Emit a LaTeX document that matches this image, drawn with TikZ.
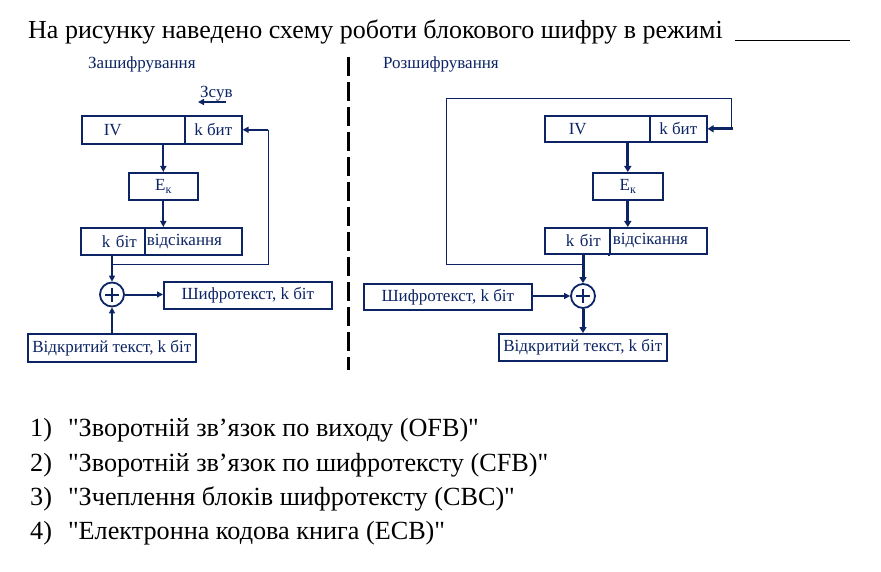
\documentclass[tikz,border=0pt]{standalone}
\usepackage{fontspec}
\setmainfont{Liberation Serif}[Ligatures=TeXOff]
\usetikzlibrary{arrows.meta}
\definecolor{navy}{RGB}{12,36,100}
\begin{document}
\begin{tikzpicture}[x=1pt,y=-1pt,
  box/.style={draw=navy, line width=1.6pt, rectangle, inner sep=0pt, text=navy,
    font=\fontsize{17}{17}\selectfont, anchor=north west},
  lbl/.style={text=navy, font=\fontsize{17}{17}\selectfont, inner sep=0pt, anchor=base west},
  arr/.style={draw=navy, line width=2pt, -{Triangle[length=6pt,width=6pt]}},
  arrb/.style={draw=navy, line width=3pt, -{Triangle[length=6pt,width=7pt]}},
  fb/.style={draw=navy, line width=1pt},
  xor/.style={circle, draw=navy, line width=1.8pt, minimum size=24pt, inner sep=0pt,
    path picture={
      \draw[navy, line width=2pt] ([xshift=-7pt]path picture bounding box.center) -- ([xshift=7pt]path picture bounding box.center);
      \draw[navy, line width=2pt] ([yshift=-7pt]path picture bounding box.center) -- ([yshift=7pt]path picture bounding box.center);}},
  txt/.style={inner sep=0pt, anchor=base west, text=black},
  ans/.style={txt, font=\fontsize{26.2}{26.2}\selectfont}
]
\useasboundingbox (0,0) rectangle (881,572);

% title
\node[txt, font=\fontsize{26}{26}\selectfont] (title) at (28,39) {На рисунку наведено схему роботи блокового шифру в режимі};
\coordinate (ul1) at (735,41);
\coordinate (ul2) at (850,41);
\draw[black, line width=1pt] (ul1) -- (ul2);

% headings
\node[lbl] (encT) at (88,69) {Зашифрування};
\node[lbl] (decT) at (383,69) {Розшифрування};

% divider
\coordinate (dv1) at (348,57);
\coordinate (dv2) at (348,370);
\draw[black, line width=3pt, dash pattern=on 19pt off 6pt] (dv1) -- (dv2);

% ===== encryption =====
\node[lbl] (shift) at (200,98) {Зсув};
\coordinate (sh1) at (226,102);
\coordinate (sh2) at (198,102);
\draw[arr] (sh1) -- (sh2);

\node[box, minimum width=103pt, minimum height=28pt, text width=59pt, inner xsep=22pt, align=left] (ivL) at (81,115) {IV};
\node[box, minimum width=57pt, minimum height=28pt] (kbitL) at (184,115) {k бит};
\node[box, minimum width=69pt, minimum height=27pt] (ekL) at (128,172) {E\raisebox{-3pt}{\fontsize{12}{12}\selectfont к}};
\node[box, minimum width=64pt, minimum height=27pt, text width=48pt, inner xsep=8pt, align=right] (kbL) at (80,227) {k біт};
\node[box, minimum width=97pt, minimum height=27pt, text width=93pt, inner xsep=2pt, align=left] (otsL) at (144,227) {відсікання};
\node[xor] (xorL) at (112,294.5) {};
\node[box, minimum width=168pt, minimum height=27pt] (cipherL) at (163,281) {Шифротекст, k біт};
\node[box, minimum width=168pt, minimum height=28pt] (openL) at (27,333) {Відкритий текст, k біт};

\draw[arr] (ekL.north |- ivL.south) -- (ekL.north);
\draw[arr] (ekL.south) -- (ekL.south |- otsL.north);
\draw[arr] (xorL.north |- kbL.south) -- (xorL.north);
\draw[arr] (xorL.east) -- (xorL.east -| cipherL.west);
\draw[arr] (xorL.south |- openL.north) -- (xorL.south);
\coordinate (fbL) at (268,265);
\draw[fb] (xorL.north |- fbL) -- (fbL) -- (fbL |- kbitL.east);
\draw[arr] (fbL |- kbitL.east) -- (kbitL.east);

% ===== decryption =====
\node[box, minimum width=105pt, minimum height=26pt, text width=57pt, inner xsep=24pt, align=left] (ivR) at (544,115) {IV};
\node[box, minimum width=57pt, minimum height=26pt] (kbitR) at (649,115) {k бит};
\node[box, minimum width=70pt, minimum height=27pt] (ekR) at (592,172) {E\raisebox{-3pt}{\fontsize{12}{12}\selectfont к}};
\node[box, minimum width=65pt, minimum height=26pt, text width=47pt, inner xsep=9pt, align=right] (kbR) at (544,227) {k біт};
\node[box, minimum width=97pt, minimum height=26pt, text width=91pt, inner xsep=3pt, align=left] (otsR) at (609,227) {відсікання};
\coordinate (tick) at (609,256);
\draw[navy, line width=1.6pt] (otsR.south west) -- (tick);
\node[xor] (xorR) at (583,296) {};
\node[box, minimum width=168pt, minimum height=26pt] (cipherR) at (363,283) {Шифротекст, k біт};
\node[box, minimum width=168pt, minimum height=27pt] (openR) at (498,333) {Відкритий текст, k біт};

\draw[arrb] (ekR.north |- ivR.south) -- (ekR.north);
\draw[arrb] (ekR.south) -- (ekR.south |- otsR.north);
\draw[arrb] (xorR.north |- kbR.south) -- (xorR.north);
\draw[arr] (xorR.west -| cipherR.east) -- (xorR.west);
\draw[arrb] (xorR.south) -- (xorR.south |- openR.north);
\coordinate (fbR0) at (446,265);
\coordinate (fbR1) at (446,99);
\coordinate (fbR2) at (731,99);
\coordinate (fbR3) at (733,128);
\draw[fb] (fbR0 -| xorR.north) -- (fbR0) -- (fbR1) -- (fbR2) -- (fbR2 |- kbitR.east);
\draw[arrb] (fbR3 |- kbitR.east) -- (kbitR.east);

% ===== answers =====
\node[ans] (a1) at (30,436) {1)\hspace{16pt}"Зворотній зв’язок по виходу (OFB)"};
\node[ans] (a2) at (30,471) {2)\hspace{16pt}"Зворотній зв’язок по шифротексту (CFB)"};
\node[ans] (a3) at (30,505) {3)\hspace{16pt}"Зчеплення блоків шифротексту (CBC)"};
\node[ans] (a4) at (30,539) {4)\hspace{16pt}"Електронна кодова книга (ECB)"};
\end{tikzpicture}
\end{document}
